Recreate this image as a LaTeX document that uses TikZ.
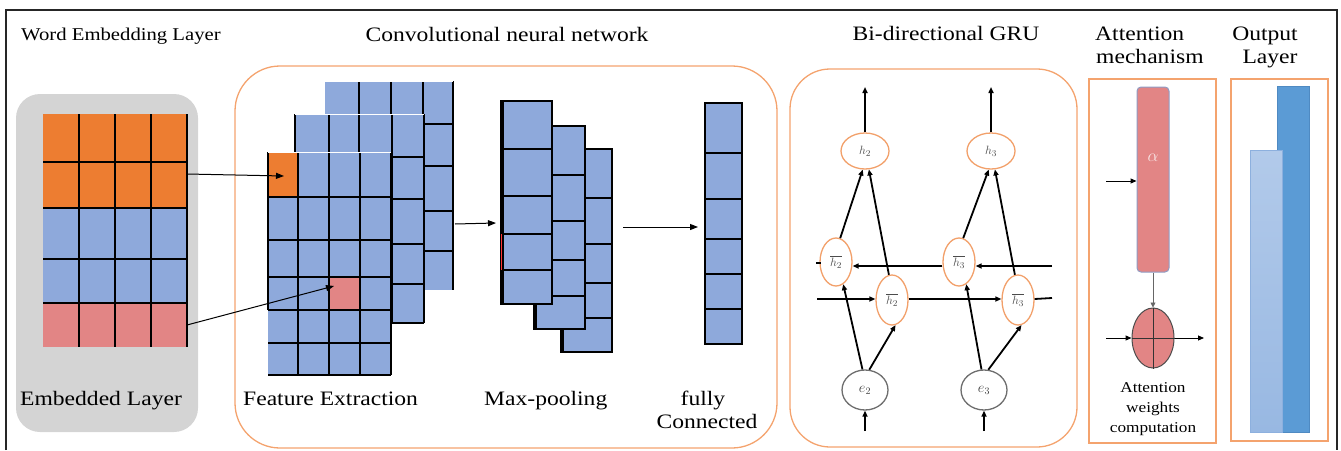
\documentclass[tikz,border=0pt]{standalone}
\usepackage{fontspec}
\setmainfont[FakeStretch=1.15]{Liberation Serif}
\usetikzlibrary{arrows.meta,shapes.geometric}
\definecolor{orangeC}{HTML}{ED7D31}
\definecolor{blueC}{HTML}{8EA9DB}
\definecolor{pinkC}{HTML}{E28585}
\definecolor{grayC}{HTML}{D4D4D4}
\definecolor{boxOr}{HTML}{F4A36E}
\definecolor{ellOr}{HTML}{F2A06A}
\definecolor{egray}{HTML}{6E6E6E}
\definecolor{alphaBd}{HTML}{8E9CC4}
\definecolor{outDark}{HTML}{5B9BD5}
\definecolor{outDarkBd}{HTML}{4F8AC2}
\definecolor{outLightT}{HTML}{B2CAEA}
\definecolor{outLightB}{HTML}{98B8E2}
\definecolor{outLightBd}{HTML}{8DB0DE}
\tikzset{
  ttl/.style={font=\fontsize{20.5}{23}\selectfont, anchor=base, inner sep=0pt},
  gline/.style={line width=1.4pt, black},
  arr/.style={line width=1pt, -{Triangle[length=8pt,width=6pt]}},
  garr/.style={line width=1.8pt, -{Triangle[length=6pt,width=5pt]}},
  gnode/.style={ellipse, draw=ellOr, line width=1.3pt, inner sep=0pt, fill=white,
    font=\fontsize{13}{14}\selectfont, text=black!70},
  enode/.style={ellipse, draw=egray, line width=1.3pt, inner sep=0pt, fill=white,
    font=\fontsize{14}{15}\selectfont, text=black!75},
  panel/.style={draw=boxOr, line width=1.3pt},
  small/.style={font=\fontsize{15}{17}\selectfont, anchor=base, inner sep=0pt},
}
\begin{document}
\begin{tikzpicture}[x=1pt,y=-1pt]
\useasboundingbox (0,0) rectangle (1341,450);
% outer frame
\draw[line width=2.5pt, black!85] (6,450) -- (6,10) -- (1337,10) -- (1337,450);

% ---------- titles ----------
\node[ttl, font=\fontsize{18}{20}\selectfont] (t1) at (121,40) {Word Embedding Layer};
\node[ttl] (t2) at (507,41) {Convolutional neural network};
\node[ttl] (t3) at (946,40) {Bi-directional GRU};
\node[ttl, anchor=base west] (t4a) at (1095,40) {Attention};
\node[ttl, anchor=base west] (t4b) at (1096,63) {mechanism};
\node[ttl] (t5a) at (1265,40) {Output};
\node[ttl] (t5b) at (1270,63) {Layer};

% ---------- word embedding ----------
\fill[grayC, rounded corners=24pt] (16,94) rectangle (198,432);
\fill[orangeC] (43,114) rectangle (187,208);
\fill[blueC] (43,208) rectangle (187,303);
\fill[pinkC] (43,303) rectangle (187,347);
\foreach \x in {79,115,151,187} \draw[gline] (\x,114) -- (\x,347);
\foreach \y in {162,208,259,303} \draw[gline] (43,\y) -- (187,\y);
\node[ttl, anchor=base west] (emb) at (20,405) {Embedded Layer};
\coordinate (embA) at (187,174);
\coordinate (embB) at (187,325);

% ---------- CNN panel ----------
\draw[panel, rounded corners=45pt] (235,66) rectangle (777,448);
% back map
\fill[blueC] (325,81) rectangle (453,290);
\foreach \x in {359,391,423,453} \draw[gline] (\x,81) -- (\x,290);
\foreach \y in {124,166,211,251} \draw[gline] (325,\y) -- (453,\y);
\draw[white, line width=1pt] (325,81) -- (453,81);
% middle map
\fill[blueC] (295,114) rectangle (424,323);
\foreach \x in {295,329,359,392,424} \draw[gline] (\x,114) -- (\x,323);
\foreach \y in {157,199,244,284,323} \draw[gline] (295,\y) -- (424,\y);
\draw[white, line width=1pt] (295,114) -- (424,114);
% front map
\fill[blueC] (268,152) rectangle (391,375);
\fill[orangeC] (268,152) rectangle (298,197);
\fill[pinkC] (329,277) rectangle (360,310);
\draw[gline] (268,152) -- (268,310);
\foreach \x in {298,329,360,391} \draw[gline] (\x,152) -- (\x,375);
\foreach \y in {197,240,277,310,343,375} \draw[gline] (268,\y) -- (391,\y);
\draw[white, line width=1pt] (268,152) -- (391,152);
\coordinate (fmA) at (284,176);
\coordinate (fmB) at (334,286);
\coordinate (fmOut) at (455,224);
\node[ttl, anchor=base west] (fe) at (243,405) {Feature Extraction};

% max pooling columns (back to front)
\fill[blueC] (561,149) rectangle (612,352);
\draw[gline] (561,149) rectangle (612,352);
\draw[line width=3pt] (562,318) -- (562,352);
\foreach \y in {198,244,283,318} \draw[gline] (561,\y) -- (612,\y);
\fill[blueC] (534,126) rectangle (585,329);
\draw[gline] (534,126) rectangle (585,329);
\draw[line width=3pt] (535,296) -- (535,329);
\foreach \y in {175,221,260,296} \draw[gline] (534,\y) -- (585,\y);
\fill[blueC] (501,101) rectangle (552,304);
\draw[gline] (501,101) rectangle (552,304);
\draw[line width=3pt] (502,101) -- (502,304);
\foreach \y in {149,196,234,270} \draw[gline] (501,\y) -- (552,\y);
\draw[red!80, line width=1pt] (501,234) -- (501,270);
\coordinate (mpIn) at (496,223);
\coordinate (mpOut) at (623,227);
\node[ttl, anchor=base west] (mp) at (484,405) {Max-pooling};

% fully connected
\fill[blueC] (705,103) rectangle (742,344);
\draw[gline] (705,103) rectangle (742,344);
\foreach \y in {153,199,239,274,309} \draw[gline] (705,\y) -- (742,\y);
\coordinate (fcIn) at (698,227);
\node[ttl] (fc1) at (703,405) {fully};
\node[ttl] (fc2) at (707,428) {Connected};

\draw[arr] (embA) -- (fmA);
\draw[arr] (embB) -- (fmB);
\draw[arr] (fmOut) -- (mpIn);
\draw[arr] (mpOut) -- (fcIn);

% ---------- Bi-GRU ----------
\draw[panel, rounded corners=40pt] (790,69) rectangle (1077,447);
\node[gnode, minimum width=48pt, minimum height=36pt] (h2) at (865,151) {$h_2$};
\node[gnode, minimum width=48pt, minimum height=36pt] (h3) at (991,151) {$h_3$};
\node[gnode, minimum width=32pt, minimum height=48pt] (hb2) at (836,262) {$\overline{h_2}$};
\node[gnode, minimum width=32pt, minimum height=48pt] (hb3) at (959,262) {$\overline{h_3}$};
\node[gnode, minimum width=32pt, minimum height=50pt] (hf2) at (892,300) {$\overline{h_2}$};
\node[gnode, minimum width=32pt, minimum height=50pt] (hf3) at (1018,300) {$\overline{h_3}$};
\node[enode, minimum width=46pt, minimum height=40pt] (e2) at (865,390) {$e_2$};
\node[enode, minimum width=46pt, minimum height=40pt] (e3) at (984,390) {$e_3$};
\coordinate (o2) at (865,87);
\coordinate (o3) at (991,87);
\coordinate (i2) at (865,431);
\coordinate (i3) at (984,431);
\coordinate (bIn) at (1052,266);
\coordinate (bOutA) at (816,263);
\coordinate (bOutB) at (821,263);
\coordinate (fIn) at (817,299);
\coordinate (fOut) at (1052,298);

\draw[garr] (h2.north) -- (o2);
\draw[garr] (h3.north) -- (o3);
\draw[garr] (i2) -- (e2.south);
\draw[garr] (i3) -- (e3.south);
\draw[garr] (bIn) -- (hb3.east |- bIn);
\draw[garr] (hb3.west |- bIn) -- (hb2.east |- bIn);
\draw[line width=1.8pt] (bOutA) -- (bOutB);
\draw[garr] (fIn) -- (hf2.west |- fIn);
\draw[garr] (hf2.east |- fIn) -- (hf3.west |- fIn);
\draw[line width=1.8pt] (hf3.east |- fIn) -- (fOut);
\foreach \n in {2,3}{
  \draw[garr] (e\n.97) -- (hb\n.-72);
  \draw[garr] (e\n.78) -- (hf\n.-82);
  \draw[garr] (hb\n.80) -- (h\n.-97);
  \draw[garr] (hf\n.97) -- (h\n.-78);
}

% ---------- attention ----------
\draw[panel] (1089,79) rectangle (1216,443);
\node[draw=alphaBd, fill=pinkC, line width=1pt, rounded corners=4pt, minimum width=32pt,
  minimum height=185pt, inner sep=0pt] (attn) at (1153,179.5) {};
\node[font=\fontsize{18}{19}\selectfont, text=white!80!pinkC] (alph) at (1153,158) {$\alpha$};
\node[ellipse, draw=black!70, fill=pinkC, line width=1pt, minimum width=42pt, minimum height=60pt,
  inner sep=0pt] (ws) at (1153,338) {};
\draw[line width=1pt, black!80] (ws.north) -- (ws.south);
\draw[line width=1pt, black!80] (ws.west) -- (ws.east);
\coordinate (aIn) at (1106,181);
\coordinate (wIn) at (1106,338);
\coordinate (wOut) at (1204,338);
\draw[line width=1pt, -{Triangle[length=6pt,width=5pt]}] (aIn) -- (aIn -| attn.west);
\draw[line width=0.8pt, black!60, -{Triangle[length=5pt,width=5pt]}] (attn.south) -- (ws.north);
\draw[line width=1pt, -{Triangle[length=6pt,width=5pt]}] (wIn) -- (ws.west);
\draw[line width=1pt, -{Triangle[length=6pt,width=5pt]}] (ws.east) -- (wOut);
\node[small] (awc1) at (1153,392) {Attention};
\node[small] (awc2) at (1153,412) {weights};
\node[small] (awc3) at (1153,432) {computation};

% ---------- output ----------
\draw[panel] (1231,79) rectangle (1328,441);
\draw[fill=outDark, draw=outDarkBd, line width=0.8pt] (1277,86) rectangle (1309,432);
\shade[top color=outLightT, bottom color=outLightB] (1250,150) rectangle (1282,432);
\draw[outLightBd, line width=0.8pt] (1250,150) rectangle (1282,432);
\end{tikzpicture}
\end{document}
